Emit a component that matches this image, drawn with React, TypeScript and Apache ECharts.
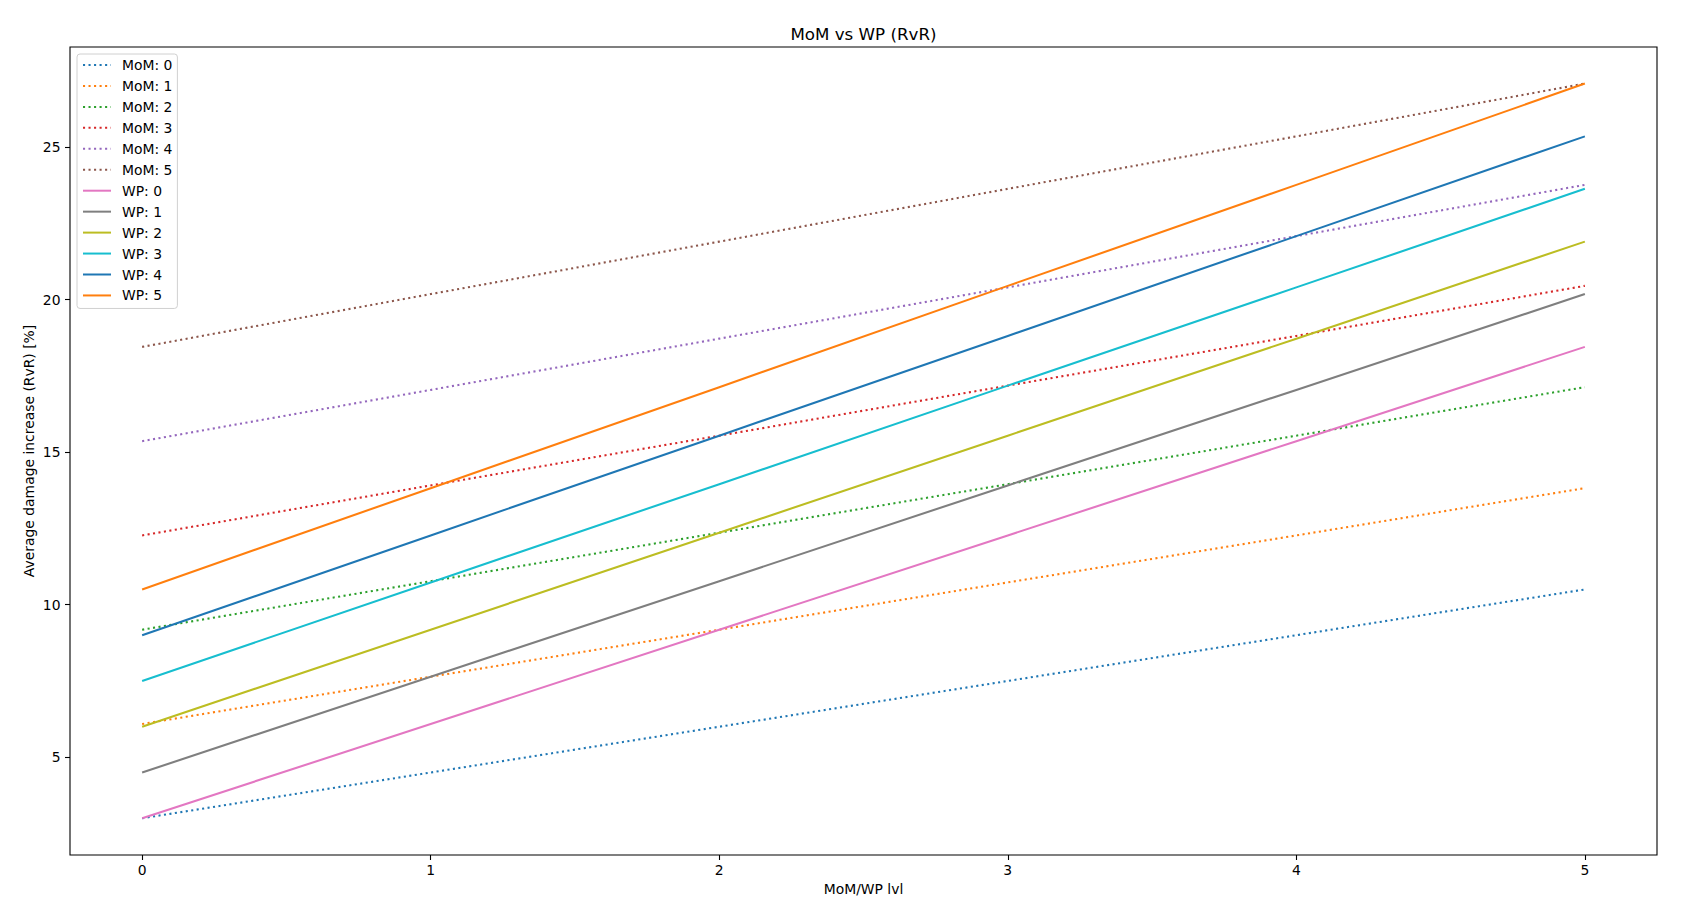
import React, { useEffect, useRef } from "react";
import * as echarts from "echarts";

const X_LEVELS = [0, 1, 2, 3, 4, 5];
const X_TICKS = [0, 1, 2, 3, 4, 5];
const Y_TICKS = [5, 10, 15, 20, 25];

const MOM_NAMES = ["MoM: 0", "MoM: 1", "MoM: 2", "MoM: 3", "MoM: 4", "MoM: 5"];
const WP_NAMES = ["WP: 0", "WP: 1", "WP: 2", "WP: 3", "WP: 4", "WP: 5"];

const MOM_0 = [3.0, 4.5, 6.0, 7.5, 9.0, 10.5];
const MOM_1 = [6.09, 7.64, 9.18, 10.73, 12.27, 13.82];
const MOM_2 = [9.18, 10.77, 12.36, 13.95, 15.54, 17.13];
const MOM_3 = [12.27, 13.91, 15.54, 17.18, 18.81, 20.45];
const MOM_4 = [15.36, 17.04, 18.72, 20.4, 22.08, 23.76];
const MOM_5 = [18.45, 20.18, 21.9, 23.63, 25.35, 27.08];

const WP_0 = [3.0, 6.09, 9.18, 12.27, 15.36, 18.45];
const WP_1 = [4.5, 7.64, 10.77, 13.91, 17.04, 20.18];
const WP_2 = [6.0, 9.18, 12.36, 15.54, 18.72, 21.9];
const WP_3 = [7.5, 10.73, 13.95, 17.18, 20.4, 23.63];
const WP_4 = [9.0, 12.27, 15.54, 18.81, 22.08, 25.35];
const WP_5 = [10.5, 13.82, 17.13, 20.45, 23.76, 27.08];

const MOM_SERIES = [MOM_0, MOM_1, MOM_2, MOM_3, MOM_4, MOM_5];
const WP_SERIES = [WP_0, WP_1, WP_2, WP_3, WP_4, WP_5];

const MOM_COLORS = ["#1f77b4", "#ff7f0e", "#2ca02c", "#d62728", "#9467bd", "#8c564b"];
const WP_COLORS = ["#e377c2", "#7f7f7f", "#bcbd22", "#17becf", "#1f77b4", "#ff7f0e"];

const TITLE = "MoM vs WP (RvR)";
const X_NAME = "MoM/WP lvl";
const Y_NAME = "Average damage increase (RvR) [%]";

const FONT = "'DejaVu Sans', sans-serif";
const FS = 13.9;

const X_MIN = -0.25;
const X_MAX = 5.25;
const Y_MIN = 1.796;
const Y_MAX = 28.279;

const GRID = { left: 70, top: 47, width: 1587, height: 808 };

function buildOption() {
  const series: any[] = [];
  MOM_SERIES.forEach((vals, i) => {
    series.push({
      name: MOM_NAMES[i],
      type: "line",
      data: X_LEVELS.map((x, k) => [x, vals[k]]),
      symbol: "none",
      showSymbol: false,
      silent: true,
      color: MOM_COLORS[i],
      lineStyle: { color: MOM_COLORS[i], width: 2.08, type: [2.08, 3.44], cap: "butt" },
      z: 2 + i,
    });
  });
  WP_SERIES.forEach((vals, i) => {
    series.push({
      name: WP_NAMES[i],
      type: "line",
      data: X_LEVELS.map((x, k) => [x, vals[k]]),
      symbol: "none",
      showSymbol: false,
      silent: true,
      color: WP_COLORS[i],
      lineStyle: { color: WP_COLORS[i], width: 2.08, type: "solid" },
      z: 10 + i,
    });
  });

  const labelStyle = { fontFamily: FONT, fontSize: FS, color: "#000" };

  return {
    animation: false,
    backgroundColor: "#ffffff",
    grid: {
      ...GRID,
      show: true,
      borderColor: "#000",
      borderWidth: 1.1,
      backgroundColor: "transparent",
      containLabel: false,
      outerBoundsMode: "none",
    },
    xAxis: {
      type: "value",
      min: X_MIN,
      max: X_MAX,
      splitLine: { show: false },
      axisLine: { show: false, onZero: false },
      axisTick: {
        show: true,
        customValues: X_TICKS,
        length: 5,
        lineStyle: { color: "#000", width: 1.1 },
      },
      axisLabel: { ...labelStyle, customValues: X_TICKS, margin: 8 },
    },
    yAxis: {
      type: "value",
      min: Y_MIN,
      max: Y_MAX,
      splitLine: { show: false },
      axisLine: { show: false, onZero: false },
      axisTick: {
        show: true,
        customValues: Y_TICKS,
        length: 5,
        lineStyle: { color: "#000", width: 1.1 },
      },
      axisLabel: { ...labelStyle, customValues: Y_TICKS, margin: 9.5 },
    },
    legend: {
      orient: "vertical",
      left: 77,
      top: 54,
      data: [...MOM_NAMES, ...WP_NAMES],
      itemWidth: 28,
      itemHeight: 14,
      itemGap: 6.95,
      padding: [4, 5, 6, 5],
      backgroundColor: "rgba(255,255,255,0.8)",
      borderColor: "#d0d0d0",
      borderWidth: 1,
      borderRadius: 3,
      selectedMode: false,
      itemStyle: { color: "transparent", borderColor: "transparent", borderWidth: 0, opacity: 0 },
      textStyle: { fontFamily: FONT, fontSize: FS, color: "#000", lineHeight: 14, padding: [0, 0, 0, 6] },
      z: 50,
    },
    graphic: [
      {
        type: "text",
        x: GRID.left + GRID.width / 2,
        y: 33.5,
        style: { text: TITLE, fontFamily: FONT, fontSize: 16.7, fill: "#000", textAlign: "center", textVerticalAlign: "middle" },
      },
      {
        type: "text",
        x: GRID.left + GRID.width / 2,
        y: 889.2,
        style: { text: X_NAME, fontFamily: FONT, fontSize: FS, fill: "#000", textAlign: "center", textVerticalAlign: "middle" },
      },
      {
        type: "text",
        x: 28.5,
        y: GRID.top + GRID.height / 2,
        rotation: Math.PI / 2,
        style: { text: Y_NAME, fontFamily: FONT, fontSize: FS, fill: "#000", textAlign: "center", textVerticalAlign: "middle" },
      },
    ],
    series,
  };
}

export default function App() {
  const ref = useRef<HTMLDivElement>(null);
  useEffect(() => {
    if (!ref.current) return;
    const chart = echarts.init(ref.current, null, { renderer: "svg", width: 1688, height: 919 });
    chart.setOption(buildOption() as any);
    return () => chart.dispose();
  }, []);
  return (
    <div
      ref={ref}
      style={{ position: "fixed", left: 0, top: 0, width: 1688, height: 919, background: "#fff" }}
    />
  );
}
